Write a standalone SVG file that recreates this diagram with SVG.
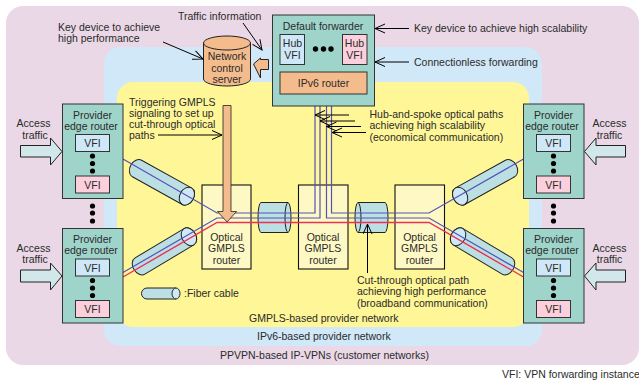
<svg xmlns="http://www.w3.org/2000/svg" width="639" height="380" viewBox="0 0 639 380">
<style>
text{font-family:"Liberation Sans",Arial,sans-serif;font-size:10.5px;fill:#2b2b2b}
.m{text-anchor:middle}
.box{stroke:#333;stroke-width:1}
.teal{fill:#9fd4ca}
.blue{fill:#cfe8f8}
.pink{fill:#fbd0dc}
.orange{fill:#f4bb8c}
.cream{fill:#fef9c4;stroke:#111;stroke-width:1.1}
.cyl{fill:#bbdfe2;stroke:#222;stroke-width:1}
.cap{fill:#cfe8f5;stroke:#222;stroke-width:1}
.arrow{fill:#d1e7ea;stroke:#222;stroke-width:1}
.lb{fill:none;stroke:#5252b8;stroke-width:1.2}
.lr{fill:none;stroke:#ec3057;stroke-width:1.4}
.note{fill:none;stroke:#000;stroke-width:1;marker-end:url(#open)}
</style>
<defs>
<marker id="open" markerUnits="userSpaceOnUse" markerWidth="14" markerHeight="12" refX="11" refY="5" orient="auto"><path d="M1 0.5L11 5L1 9.500" fill="none" stroke="#000" stroke-width="1"/></marker>
<g id="cylH"><path class="cyl" d="M0 -9.500L57 -9.500A7 9.500 0 0 1 57 9.500L0 9.500A7 9.500 0 0 1 0 -9.500Z"/><ellipse class="cap" cx="57" cy="0" rx="7" ry="9.500"/></g>
</defs>
<g id="regions">
<rect x="6" y="6" width="633" height="359" rx="17" fill="#ead8e6"/>
<rect x="104" y="47" width="438" height="299" rx="16" fill="#d0e8f8"/>
<rect x="117" y="82" width="412" height="245" rx="16" fill="#fef697"/>
</g>
<g id="router-1"><rect class="cream" x="202" y="185" width="49" height="84"/><text class="m" x="226.500" y="241">Optical</text><text class="m" x="226.500" y="252">GMPLS</text><text class="m" x="226.500" y="264">router</text></g>
<g id="router-2"><rect class="cream" x="298.500" y="185" width="49.500" height="84"/><text class="m" x="323" y="241">Optical</text><text class="m" x="323" y="252">GMPLS</text><text class="m" x="323" y="264">router</text></g>
<g id="router-3"><rect class="cream" x="395" y="185" width="49.500" height="84"/><text class="m" x="419.500" y="241">Optical</text><text class="m" x="419.500" y="252">GMPLS</text><text class="m" x="419.500" y="264">router</text></g>
<g id="fiber-horizontal">
<path class="cyl" d="M261 202.500H288A3 15 0 0 1 288 232.500H261A3 15 0 0 1 261 202.500Z"/><path fill="none" stroke="#222" d="M288 202.500A3 15 0 0 0 288 232.500"/>
<path class="cyl" d="M358 202.500H385A3 15 0 0 1 385 232.500H358A3 15 0 0 1 358 202.500Z"/><path fill="none" stroke="#222" d="M358 202.500A3 15 0 0 1 358 232.500"/>
</g>
<g id="fiber-diagonal">
<use href="#cylH" transform="translate(137 168.500) rotate(29)"/>
<use href="#cylH" transform="translate(140 266) rotate(-30.900)"/>
<use href="#cylH" transform="translate(510 168.500) scale(-1 1) rotate(29)"/>
<use href="#cylH" transform="translate(507 266) scale(-1 1) rotate(-30.900)"/>
</g>
<g id="connectors">
<path class="lb" d="M123 159L217 213H315V94"/>
<path class="lb" d="M123 272.500L217 218H320V94"/>
<path class="lb" d="M523.500 159L429 213H331.500V94"/>
<path class="lb" d="M523.500 272.500L429 218H326.500V94"/>
<path class="lr" d="M123 277L217 222.500H429L523.500 277"/>
<path class="lb" d="M292 64V72M354.500 64V72"/>
</g>
<g id="provider-edge-1"><rect class="box teal" x="62.500" y="104" width="60.500" height="94.500"/><text class="m" x="92.500" y="118.500">Provider</text><text class="m" x="91" y="129.500">edge router</text><rect class="box blue" x="75.500" y="134.500" width="34" height="17"/><text class="m" x="92.500" y="147">VFI</text><circle cx="92.500" cy="156" r="2.600"/><circle cx="92.500" cy="163.500" r="2.600"/><circle cx="92.500" cy="171" r="2.600"/><rect class="box pink" x="75.500" y="176" width="34" height="17"/><text class="m" x="92.500" y="188.500">VFI</text></g>
<g id="provider-edge-2"><rect class="box teal" x="62.500" y="228.500" width="60.500" height="94.500"/><text class="m" x="92.500" y="243">Provider</text><text class="m" x="91" y="254">edge router</text><rect class="box blue" x="75.500" y="259" width="34" height="17"/><text class="m" x="92.500" y="271.500">VFI</text><circle cx="92.500" cy="280.500" r="2.600"/><circle cx="92.500" cy="288" r="2.600"/><circle cx="92.500" cy="295.500" r="2.600"/><rect class="box pink" x="75.500" y="300.500" width="34" height="17"/><text class="m" x="92.500" y="313">VFI</text></g>
<g id="provider-edge-3"><rect class="box teal" x="523.500" y="104" width="60.500" height="94.500"/><text class="m" x="553.500" y="118.500">Provider</text><text class="m" x="552" y="129.500">edge router</text><rect class="box blue" x="536.500" y="134.500" width="34" height="17"/><text class="m" x="553.500" y="147">VFI</text><circle cx="553.500" cy="156" r="2.600"/><circle cx="553.500" cy="163.500" r="2.600"/><circle cx="553.500" cy="171" r="2.600"/><rect class="box pink" x="536.500" y="176" width="34" height="17"/><text class="m" x="553.500" y="188.500">VFI</text></g>
<g id="provider-edge-4"><rect class="box teal" x="523.500" y="228.500" width="60.500" height="94.500"/><text class="m" x="553.500" y="243">Provider</text><text class="m" x="552" y="254">edge router</text><rect class="box blue" x="536.500" y="259" width="34" height="17"/><text class="m" x="553.500" y="271.500">VFI</text><circle cx="553.500" cy="280.500" r="2.600"/><circle cx="553.500" cy="288" r="2.600"/><circle cx="553.500" cy="295.500" r="2.600"/><rect class="box pink" x="536.500" y="300.500" width="34" height="17"/><text class="m" x="553.500" y="313">VFI</text></g>
<g id="between-edge-dots"><circle cx="92.500" cy="206" r="2.600"/><circle cx="92.500" cy="213" r="2.600"/><circle cx="92.500" cy="221" r="2.600"/><circle cx="553.500" cy="206" r="2.600"/><circle cx="553.500" cy="213" r="2.600"/><circle cx="553.500" cy="221" r="2.600"/></g>
<g id="default-forwarder">
<rect class="box teal" x="272.500" y="15" width="102" height="91"/>
<text class="m" x="323" y="29.500">Default forwarder</text>
<rect class="box blue" x="280" y="34.500" width="24.500" height="30"/><text class="m" x="292.500" y="47">Hub</text><text class="m" x="292.500" y="59">VFI</text>
<rect class="box pink" x="342.500" y="34.500" width="24.500" height="30"/><text class="m" x="354.500" y="47">Hub</text><text class="m" x="354.500" y="59">VFI</text>
<circle cx="315.500" cy="49" r="2.700"/><circle cx="323.500" cy="49" r="2.700"/><circle cx="331" cy="49" r="2.700"/>
<rect class="box orange" x="280" y="72" width="87" height="22"/><text class="m" x="323.500" y="87">IPv6 router</text>
</g>
<g id="network-control-server">
<path d="M203.500 43A23.500 7 0 0 1 250.500 43V79A23.500 7 0 0 1 203.500 79Z" class="orange" stroke="#222"/>
<path d="M203.500 43A23.500 7 0 0 0 250.500 43" fill="none" stroke="#222"/>
<text class="m" x="227" y="60">Network</text><text class="m" x="227" y="71.500">control</text><text class="m" x="227" y="83">server</text>
</g>
<g id="signal-arrows">
<path class="orange" stroke="#222" d="M253.500 64L260.500 58V59.500H268.500V69.500H260.500V78Z"/>
<path class="orange" stroke="#222" stroke-width="0.800" d="M223 105.500H231V211.500H236.500L227 222L217.500 211.500H223Z"/>
<path class="arrow" d="M62 151.500L50.500 138V145.500H20.500V157H50.500V165Z"/>
<path class="arrow" d="M62 276L50.500 263V270H20.500V282H50.500V290Z"/>
<path class="arrow" d="M584.500 151.500L596 138V145.500H625.500V157H596V165Z"/>
<path class="arrow" d="M584.500 276L596 263V270H625.500V282H596V290Z"/>
</g>
<g id="annotations">
<path class="note" d="M163 42L203 59"/>
<path class="note" d="M243 23L262 50"/>
<path class="note" d="M409 28.500H375"/>
<path class="note" d="M409 62H375"/>
<path class="note" d="M158 135H222"/>
<path class="note" d="M349 115H315"/>
<path class="note" d="M355 121H320"/>
<path class="note" d="M361 126.500H326.500"/>
<path class="note" d="M366 132.500H332"/>
<path class="note" d="M367.500 273V224"/>
</g>
<g id="legend-fiber"><path class="cyl" d="M147 288H176V299H147A5.500 5.500 0 0 1 147 288Z"/><ellipse class="cap" cx="176" cy="293.500" rx="4" ry="5.500"/></g>
<g id="labels">
<text x="58" y="31">Key device to achieve</text><text x="58" y="42">high performance</text>
<text x="178" y="19.500">Traffic information</text>
<text x="414" y="32">Key device to achieve high scalability</text>
<text x="414" y="66">Connectionless forwarding</text>
<text x="129" y="105.500">Triggering GMPLS</text><text x="129" y="116.500">signaling to set up</text><text x="129" y="127.500">cut-through optical</text><text x="129" y="139">paths</text>
<text x="369.500" y="118">Hub-and-spoke optical paths</text><text x="369.500" y="129">achieving high scalability</text><text x="369.500" y="140.500">(economical communication)</text>
<text class="m" x="33.500" y="127">Access</text><text class="m" x="35" y="139">traffic</text>
<text class="m" x="33.500" y="252">Access</text><text class="m" x="35" y="263">traffic</text>
<text class="m" x="609.500" y="127">Access</text><text class="m" x="609.500" y="139">traffic</text>
<text class="m" x="609.500" y="252">Access</text><text class="m" x="609.500" y="263">traffic</text>
<text x="184" y="297">:Fiber cable</text>
<text x="357" y="284">Cut-through optical path</text><text x="357" y="295">achieving high performance</text><text x="357" y="307">(broadband communication)</text>
<text x="249" y="322">GMPLS-based provider network</text>
<text x="257" y="340">IPv6-based provider network</text>
<text x="220" y="359">PPVPN-based IP-VPNs (customer networks)</text>
<text x="502" y="377.500">VFI: VPN forwarding instance</text>
</g>
</svg>
